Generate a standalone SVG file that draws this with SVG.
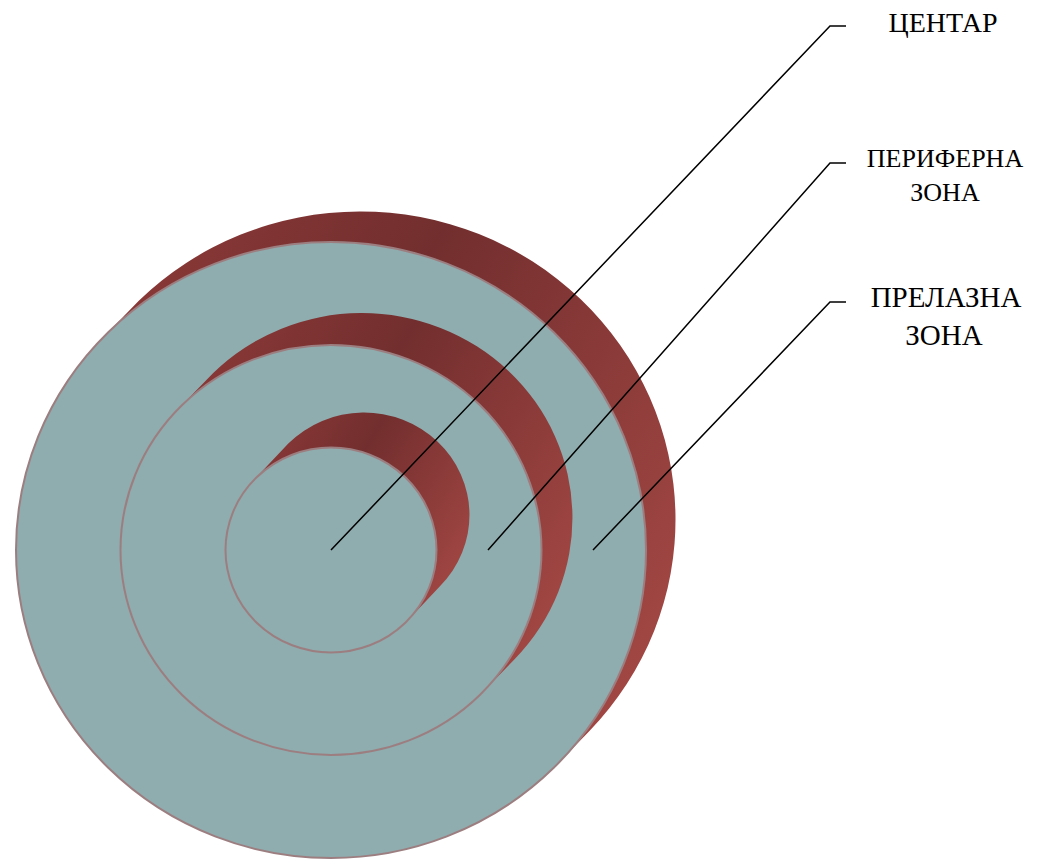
<svg xmlns="http://www.w3.org/2000/svg" width="1042" height="859" viewBox="0 0 1042 859">
<defs>
<linearGradient id="red" x1="0" y1="0.2" x2="1" y2="0.8">
<stop offset="0" stop-color="#8E3B39"/>
<stop offset="0.4" stop-color="#722E2E"/>
<stop offset="1" stop-color="#A84A46"/>
</linearGradient>
<style>
.shadow{fill:url(#red);stroke:none}
.disc{fill:#8FACAE;stroke:#9C7E80;stroke-width:2}
.lead{fill:none;stroke:#000;stroke-width:1.5}
.lbl{font-family:"Liberation Serif","Times New Roman",serif;font-size:26px;fill:#000;text-anchor:middle}
.big{font-size:29px}
</style>
</defs>
<g id="ring-outer">
<path class="shadow" d="M105.8,334.7 L138.8,300.7 A315,308 0 0 1 589.2,731.3 L556.2,765.3 A315,308 0 0 1 105.8,334.7 Z"/>
<ellipse class="disc" cx="331" cy="550" rx="315" ry="308"/>
</g>
<g id="ring-middle">
<path class="shadow" d="M180.2,407 L213.2,373 A210.5,205 0 0 1 514.8,659 L481.8,693 A210.5,205 0 0 1 180.2,407 Z"/>
<ellipse class="disc" cx="331" cy="550" rx="210.5" ry="205"/>
</g>
<g id="ring-inner">
<path class="shadow" d="M255.3,478.6 L288.3,443.6 A105.5,102.5 0 0 1 439.7,586.4 L406.7,621.4 A105.5,102.5 0 0 1 255.3,478.6 Z"/>
<ellipse class="disc" cx="331" cy="550" rx="105.5" ry="102.5"/>
</g>
<g id="connectors">
<polyline class="lead" points="331,550 830,26 846,26"/>
<polyline class="lead" points="488,550 830,163 846,163"/>
<polyline class="lead" points="593,550 830,302 846,302"/>
</g>
<g id="label-centar">
<text class="lbl" x="943" y="32" style="font-size:28px">ЦЕНТАР</text>
</g>
<g id="label-periferna">
<text class="lbl" x="945" y="167">ПЕРИФЕРНА</text>
<text class="lbl" x="945" y="201">ЗОНА</text>
</g>
<g id="label-prelazna">
<text class="lbl big" x="946" y="307">ПРЕЛАЗНА</text>
<text class="lbl big" x="944" y="345">ЗОНА</text>
</g>
</svg>
